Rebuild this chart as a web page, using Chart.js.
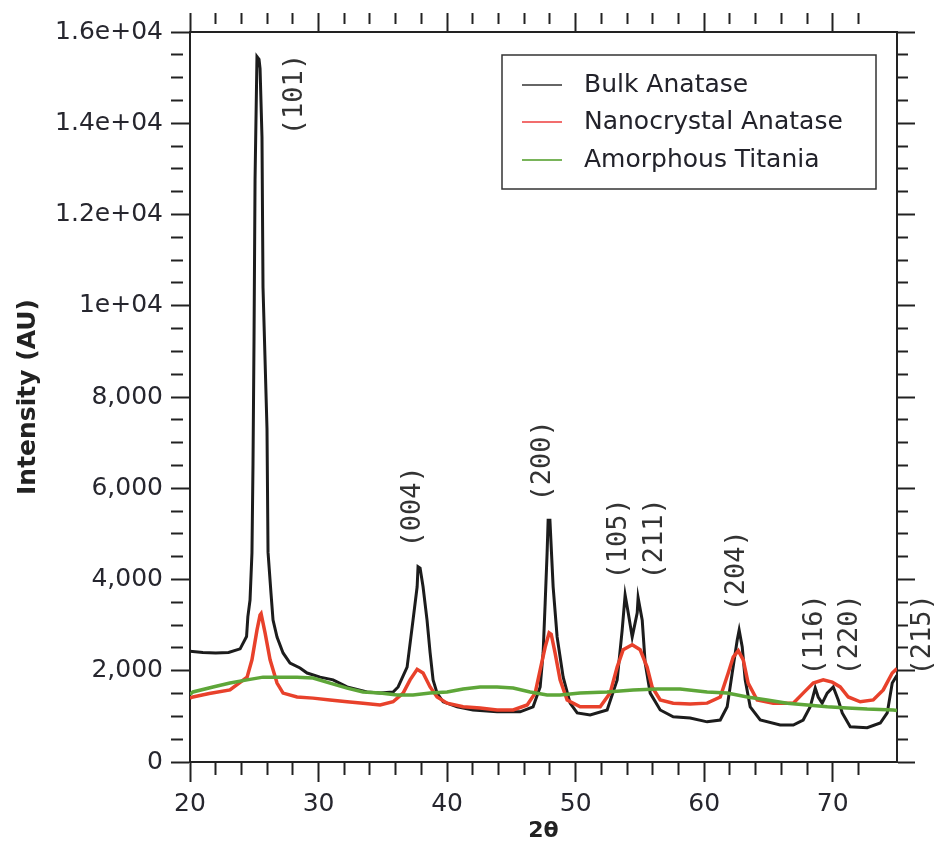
<!DOCTYPE html>
<html>
<head>
<meta charset="utf-8">
<script src="https://cdn.jsdelivr.net/npm/chart.js@4.4.1/dist/chart.umd.min.js"></script>
<style>
  html, body { margin: 0; padding: 0; background: #fff; }
  #wrap { width: 939px; height: 846px; position: relative; }
</style>
</head>
<body>
<div id="wrap"><canvas id="xrd"></canvas></div>
<script>
// series names
const seriesNames = ['Bulk Anatase', 'Nanocrystal Anatase', 'Amorphous Titania'];

// Bulk anatase
const bulkX = [
  20, 21, 22, 23, 23.9, 24.4, 24.5, 24.67, 24.82, 24.9,
  24.98, 25.06, 25.21, 25.37, 25.45, 25.6, 25.68, 25.99, 26.07, 26.3,
  26.46, 26.77, 27.24, 27.78, 28.56, 29.11, 30.12, 31.13, 32.22, 33.77,
  34.79, 35.8, 36.19, 36.89, 37.35, 37.67, 37.74, 37.9, 38.13, 38.44,
  38.68, 38.91, 39.22, 39.69, 40.78, 42.02, 43.89, 45.68, 46.69, 47.24,
  47.47, 47.63, 47.78, 47.86, 48.0, 48.25, 48.56, 49.03, 49.57, 50.12,
  51.13, 52.45, 53.23, 53.62, 53.85, 54.09, 54.4, 54.79, 54.86, 55.18,
  55.41, 55.8, 56.58, 57.59, 58.91, 60.23, 61.25, 61.79, 62.18, 62.57,
  62.72, 62.96, 63.19, 63.58, 64.36, 65.91, 66.93, 67.7, 68.25, 68.64,
  68.87, 69.18, 69.57, 70.04, 70.43, 70.74, 71.36, 72.68, 73.7, 74.24,
  74.63, 75
];
const bulkY = [
  2430, 2400, 2390, 2400, 2480, 2750, 3180, 3550, 4580, 6500,
  9250, 12760, 15460, 15400, 15200, 13700, 10400, 7300, 4600, 3700,
  3110, 2740, 2390, 2170, 2060, 1950, 1860, 1800, 1645, 1535,
  1510, 1535, 1645, 2080, 3110, 3840, 4280, 4250, 3840, 3110,
  2390, 1800, 1510, 1320, 1210, 1140, 1100, 1100, 1210, 1645,
  2390, 3490, 4580, 5300, 5300, 3840, 2740, 1860, 1290, 1075,
  1030, 1140, 1800, 2890, 3660, 3270, 2740, 3270, 3600, 3110,
  2170, 1510, 1140, 990, 965, 880, 920, 1210, 1950, 2675,
  2890, 2520, 1800, 1210, 920, 810, 810, 920, 1210, 1620,
  1425, 1290, 1510, 1645, 1360, 1075, 770, 750, 855, 1075,
  1730, 1900
];

// Nanocrystal anatase
const nanoX = [
  20, 20.23, 21.5, 23.11, 24.44, 24.82, 25.21, 25.45, 25.53, 25.84,
  26.23, 26.77, 27.24, 28.33, 29.57, 30.89, 32.22, 33.46, 34.79, 35.8,
  36.58, 37.12, 37.67, 38.13, 38.68, 39.22, 40.0, 41.25, 42.57, 43.89,
  45.14, 46.23, 46.85, 47.24, 47.63, 47.94, 48.1, 48.4, 48.79, 49.34,
  50.35, 51.91, 52.68, 53.23, 53.7, 54.4, 55.02, 55.56, 55.95, 56.58,
  57.59, 58.91, 60.23, 61.25, 61.87, 62.26, 62.65, 63.04, 63.42, 64.12,
  65.37, 66.93, 67.7, 68.48, 69.26, 69.96, 70.58, 71.21, 72.14, 73.15,
  73.93, 74.63, 75
];
const nanoY = [
  1400, 1425, 1500, 1580, 1860, 2240, 2890, 3220, 3250, 2830,
  2240, 1730, 1510, 1425, 1400, 1360, 1320, 1290, 1250, 1320,
  1510, 1800, 2030, 1950, 1645, 1425, 1290, 1210, 1185, 1140,
  1140, 1250, 1510, 2020, 2520, 2830, 2800, 2390, 1800, 1360,
  1210, 1210, 1510, 2080, 2460, 2570, 2460, 2080, 1645, 1360,
  1290, 1270, 1290, 1425, 1950, 2300, 2440, 2240, 1730, 1360,
  1290, 1290, 1510, 1730, 1800, 1750, 1645, 1425, 1320, 1360,
  1580, 1950, 2050
];

// Amorphous titania
const amorphX = [
  20, 20.23, 21.79, 23.11, 24.44, 25.68, 27.0, 28.33, 29.57, 30.89,
  32.22, 33.46, 34.79, 36.11, 37.35, 38.68, 40.0, 41.25, 42.57, 43.89,
  45.14, 46.46, 47.78, 48.79, 50.35, 52.45, 54.47, 56.34, 58.13, 60.23,
  61.79, 63.35, 64.9, 66.46, 68.02, 69.57, 71.13, 72.68, 74.71, 75
];
const amorphY = [
  1480, 1535, 1645, 1730, 1800, 1860, 1860, 1860, 1840, 1730,
  1620, 1535, 1510, 1470, 1470, 1510, 1535, 1600, 1645, 1645,
  1620, 1535, 1470, 1470, 1510, 1535, 1580, 1600, 1600, 1535,
  1510, 1425, 1360, 1290, 1250, 1210, 1185, 1160, 1140, 1130
];

// peak (hkl) labels
const peakLabels = ['(101)', '(004)', '(200)', '(105)', '(211)', '(204)', '(116)', '(220)', '(215)'];
const peakX = [28.2, 37.35, 47.47, 53.4, 56.2, 62.57, 68.64, 71.36, 77.0];
const peakY = [14630, 5590, 6600, 4890, 4890, 4190, 2785, 2785, 2785];

// axis ranges / ticks
const xMin = 20, xMax = 75, xMajor = 10, xMinor = 2;
const yMin = 0, yMax = 16000, yMajor = 2000, yMinor = 500;

const zip = (xs, ys) => xs.map((v, i) => ({ x: v, y: ys[i] }));

const axisColor = '#222';

function yLabel(v) {
  if (v % yMajor !== 0) return '';
  if (v >= 10000) return (v / 10000) + 'e+04';
  return v.toLocaleString('en-US');
}

// axis helper: one tick every minor step, majors drawn longer
function makeAxis(axis, position, major, minor, len, minorLen, showLabels, extra) {
  const isMajor = v => Math.abs(v % major) < 1e-9;
  const cfg = {
    type: 'linear',
    axis: axis,
    position: position,
    display: true,
    min: axis === 'x' ? xMin : yMin,
    max: axis === 'x' ? xMax : yMax,
    border: { display: true, color: axisColor, width: 2 },
    grid: {
      drawOnChartArea: false,
      drawTicks: true,
      tickLength: len,
      tickColor: axisColor,
      tickWidth: 2,
      tickBorderDash: ctx => (ctx.tick && isMajor(ctx.tick.value)) ? [] : [minorLen, 200]
    },
    ticks: {
      display: showLabels,
      stepSize: minor,
      autoSkip: false,
      maxRotation: 0,
      color: '#26262e',
      font: { family: 'DejaVu Sans', size: 25 }
    }
  };
  if (axis === 'x') {
    cfg.afterBuildTicks = a => { a.ticks = a.ticks.filter(t => t.value < xMax); };
  }
  return Object.assign(cfg, extra);
}

const annotate = {
  id: 'annotate',
  afterDraw(chart) {
    const { ctx } = chart;
    const x = chart.scales.x, y = chart.scales.y;
    ctx.save();
    // peak labels
    ctx.fillStyle = '#333';
    ctx.font = '27px "DejaVu Sans Mono"';
    ctx.textAlign = 'center';
    ctx.textBaseline = 'middle';
    peakLabels.forEach((t, i) => {
      ctx.save();
      ctx.translate(x.getPixelForValue(peakX[i]), y.getPixelForValue(peakY[i]));
      ctx.rotate(-Math.PI / 2);
      ctx.fillText(t, 0, 0);
      ctx.restore();
    });
    // legend box
    const legendColors = ['#666666', '#f26d6d', '#79b45a'];
    ctx.strokeStyle = '#333';
    ctx.lineWidth = 1.5;
    ctx.strokeRect(502, 55, 374, 134);
    ctx.font = '25px "DejaVu Sans"';
    ctx.textAlign = 'left';
    ctx.fillStyle = '#22222a';
    [85, 122, 160].forEach((ly, i) => {
      ctx.strokeStyle = legendColors[i];
      ctx.lineWidth = 2;
      ctx.beginPath();
      ctx.moveTo(522, ly);
      ctx.lineTo(562, ly);
      ctx.stroke();
      ctx.fillText(seriesNames[i], 584, ly);
    });
    ctx.restore();
  }
};

new Chart(document.getElementById('xrd').getContext('2d'), {
  type: 'line',
  data: {
    datasets: [
      { label: seriesNames[0], data: zip(bulkX, bulkY), borderColor: '#1c1c1c', borderWidth: 3, order: 2 },
      { label: seriesNames[1], data: zip(nanoX, nanoY), borderColor: '#e8412b', borderWidth: 3.5, order: 1 },
      { label: seriesNames[2], data: zip(amorphX, amorphY), borderColor: '#5ea639', borderWidth: 3.5, order: 0 }
    ]
  },
  options: {
    responsive: true,
    maintainAspectRatio: false,
    animation: false,
    layout: { padding: 0 },
    elements: { point: { radius: 0 }, line: { tension: 0 } },
    plugins: {
      legend: { display: false },
      tooltip: { enabled: false }
    },
    scales: {
      x: makeAxis('x', 'bottom', xMajor, xMinor, 20, 12, true, {
        ticks: {
          display: true, stepSize: xMinor, autoSkip: false, maxRotation: 0, padding: 7,
          color: '#26262e', font: { family: 'DejaVu Sans', size: 25 },
          callback: v => (v % xMajor === 0 ? v : '')
        },
        title: {
          display: true, text: '2θ', color: axisColor,
          font: { family: 'DejaVu Sans', size: 22, weight: 'bold' },
          padding: { top: 0, bottom: 2 }
        },
        afterFit: s => { s.height = 84; }
      }),
      x2: makeAxis('x', 'top', xMajor, xMinor, 19, 11, false, {
        afterFit: s => { s.height = 32; }
      }),
      y: makeAxis('y', 'left', yMajor, yMinor, 19, 12, true, {
        ticks: {
          display: true, stepSize: yMinor, autoSkip: false, padding: 8,
          color: '#26262e', font: { family: 'DejaVu Sans', size: 25 },
          callback: v => yLabel(v)
        },
        title: {
          display: true, text: 'Intensity (AU)', color: axisColor,
          font: { family: 'DejaVu Sans', size: 25, weight: 'bold' },
          padding: { top: 13, bottom: 0 }
        },
        afterFit: s => { s.width = 190; }
      }),
      y2: makeAxis('y', 'right', yMajor, yMinor, 18, 10, false, {
        afterFit: s => { s.width = 42; }
      })
    }
  },
  plugins: [annotate]
});
</script>
</body>
</html>
